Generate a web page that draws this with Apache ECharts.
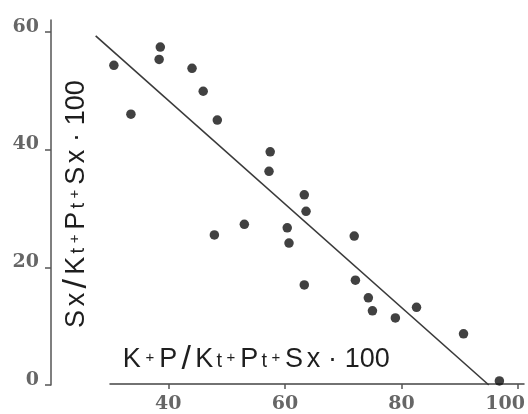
<!DOCTYPE html>
<html>
<head>
<meta charset="utf-8">
<script src="https://cdn.jsdelivr.net/npm/echarts@6/dist/echarts.min.js"></script>
<style>
  html, body { margin: 0; padding: 0; background: #fff; }
  #main { width: 528px; height: 414px; }
</style>
</head>
<body>
<div id="main"></div>
<script>
// values
var ptX = [30.7, 33.6, 38.6, 38.4, 44.0, 45.9, 48.3, 47.8, 52.9, 57.3, 57.1, 60.2,
           60.5, 63.1, 63.4, 63.1, 71.6, 71.8, 74.0, 74.7, 78.6, 82.2, 90.2, 96.3];
var ptY = [54.3, 46.0, 57.4, 55.3, 53.8, 49.9, 45.0, 25.5, 27.3, 39.6, 36.3, 26.7,
           24.1, 32.3, 29.5, 17.0, 25.3, 17.8, 14.8, 12.6, 11.4, 13.2, 8.7, 0.7];
var fitX = [27.6, 94.5];
var fitY = [59.3, 0];
var xTicks = [40, 60, 80, 100];

var points = ptX.map(function (x, i) { return [x, ptY[i]]; });
var fit = fitX.map(function (x, i) { return [x, fitY[i]]; });

var xTitle = '{a|K}{p|+}{a|P}{s|/}{a|K}{t|t}{p|+}{a|P}{t|t}{p|+}{a|S}{a|x}{d|·}{a|100}';
var yTitle = '{a|S}{a|x}{s|/}{a|K}{t|t}{p|+}{a|P}{t|t}{p|+}{a|S}{a|x}{d|·}{a|100}';
var ink = '#1e1e1e';
var titleRich = {
  a: { fontSize: 27, fontFamily: 'Liberation Sans', fill: ink, padding: [0, 1.8], lineHeight: 34 },
  p: { fontSize: 15, fontFamily: 'Liberation Sans', fill: ink, padding: [0, 3, 4, 3], lineHeight: 34 },
  t: { fontSize: 20, fontFamily: 'Liberation Sans', fill: ink, padding: [3, 1.5, 0, 1.5], lineHeight: 34 },
  s: { fontSize: 34, fontFamily: 'Liberation Sans', fill: ink, padding: [0, 2.5], lineHeight: 34 },
  d: { fontSize: 27, fontFamily: 'Liberation Sans', fill: ink, padding: [0, 6], lineHeight: 34 }
};
var tickFont = { fontFamily: 'DejaVu Serif', fontWeight: 'bold', fontSize: 19, color: '#666' };

var chart = echarts.init(document.getElementById('main'));
chart.setOption({
  animation: false,
  grid: [
    { left: 51, right: 1, top: 20, bottom: 29 },
    { left: 110, right: 1, top: 20, bottom: 29 }
  ],
  xAxis: [
    { type: 'value', gridIndex: 0, min: 20, max: 101, show: false },
    {
      type: 'value', gridIndex: 1, min: 30, max: 101,
      splitLine: { show: false },
      axisLine: { lineStyle: { color: '#444', width: 1.5 } },
      axisTick: { customValues: xTicks, length: 5, lineStyle: { color: '#555', width: 1.5 } },
      axisLabel: Object.assign({
        customValues: xTicks, margin: 11,
        formatter: function (v) { return v === 100 ? '{r|100}' : '{n|' + v + '}'; },
        rich: {
          n: Object.assign({}, tickFont),
          r: Object.assign({ padding: [0, 26, 0, 0] }, tickFont)
        }
      }, tickFont)
    }
  ],
  yAxis: [
    {
      type: 'value', gridIndex: 0, min: 0, max: 62, interval: 20,
      splitLine: { show: false },
      axisLine: { show: true, lineStyle: { color: '#555', width: 1.5 } },
      axisTick: { show: true, length: 6, lineStyle: { color: '#555', width: 1.5 } },
      axisLabel: Object.assign({
        margin: 12,
        formatter: function (v) { return '{v|' + v + '}'; },
        rich: { v: Object.assign({ padding: [0, 0, 10, 0] }, tickFont) }
      }, tickFont)
    },
    { type: 'value', gridIndex: 1, min: 0, max: 62, show: false }
  ],
  graphic: [
    { type: 'text', x: 121, y: 360, style: { text: xTitle, rich: titleRich, textAlign: 'left', textVerticalAlign: 'middle' } },
    { type: 'text', x: 77, y: 204, rotation: Math.PI / 2, style: { text: yTitle, rich: titleRich, textAlign: 'center', textVerticalAlign: 'middle' } }
  ],
  series: [
    {
      type: 'line', xAxisIndex: 0, yAxisIndex: 0, data: fit, symbol: 'none',
      lineStyle: { color: '#3a3a3a', width: 1.6 }
    },
    {
      type: 'scatter', xAxisIndex: 0, yAxisIndex: 0, data: points, symbolSize: 9.5,
      itemStyle: { color: '#111' }
    }
  ]
});
</script>
</body>
</html>
